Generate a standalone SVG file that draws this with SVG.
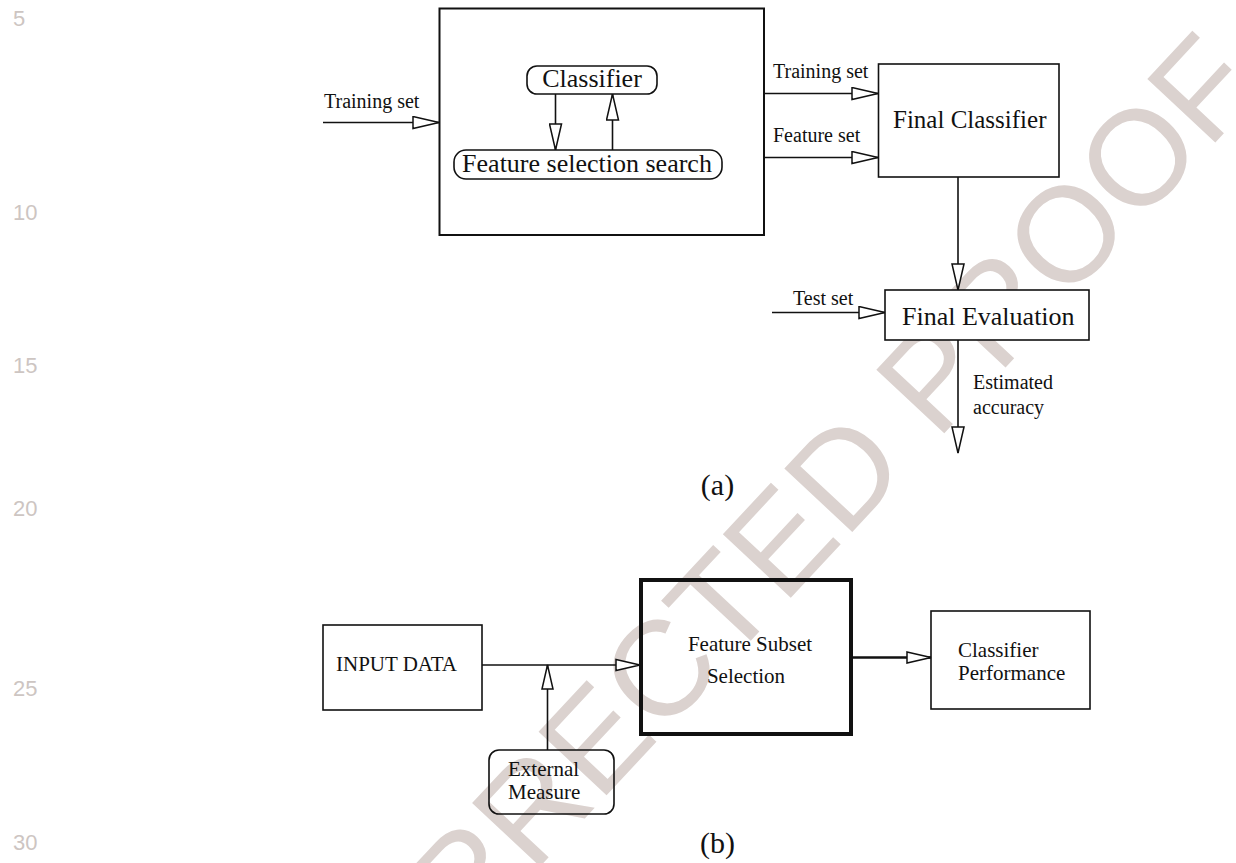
<svg xmlns="http://www.w3.org/2000/svg" width="1236" height="863" viewBox="0 0 1236 863">
<style>
.bg{fill:#ffffff}
.box{fill:none;stroke:#111;stroke-width:1.6}
.thick{fill:none;stroke:#111;stroke-width:4}
.ln{fill:none;stroke:#111;stroke-width:1.6}
.t{font-family:"Liberation Serif","Times New Roman",serif;fill:#111}
.s20{font-size:20px}
.s21{font-size:21px}
.s25{font-size:25px}
.s26{font-size:26px}
.cap{font-family:"Liberation Serif",serif;font-size:30px;fill:#111;text-anchor:middle}
.num{font-family:"Liberation Sans",Arial,sans-serif;font-size:22px;fill:#cdc5c2}
.wm{font-family:"Liberation Sans",Arial,sans-serif;font-size:135px;fill:#dbd2cf}
.mid{text-anchor:middle}
</style>
<defs>
<marker id="ah" viewBox="0 0 28 14" refX="27" refY="7" markerWidth="28" markerHeight="14" markerUnits="userSpaceOnUse" orient="auto">
<path d="M1,1 L27,7 L1,13 Z" fill="#fff" stroke="#111" stroke-width="1.5"/>
</marker>
<marker id="ahs" viewBox="0 0 26 14" refX="25" refY="7" markerWidth="26" markerHeight="14" markerUnits="userSpaceOnUse" orient="auto">
<path d="M1,1.5 L25,7 L1,12.5 Z" fill="#fff" stroke="#111" stroke-width="1.5"/>
</marker>
</defs>
<rect class="bg" x="0" y="0" width="1236" height="863"/>
<g id="watermark">
<text class="wm" transform="translate(328,1094) rotate(-47)">CORRECTED PROOF</text>
</g>
<g id="line-numbers">
<text class="num" x="13" y="26">5</text>
<text class="num" x="13" y="220">10</text>
<text class="num" x="13" y="373">15</text>
<text class="num" x="13" y="516">20</text>
<text class="num" x="13" y="696">25</text>
<text class="num" x="13" y="850">30</text>
</g>
<g id="connectors">
<line class="ln" x1="323" y1="122.5" x2="439" y2="122.5" marker-end="url(#ah)"/>
<line class="ln" x1="555.5" y1="94" x2="555.5" y2="150" marker-end="url(#ah)"/>
<line class="ln" x1="612.5" y1="150" x2="612.5" y2="94" marker-end="url(#ah)"/>
<line class="ln" x1="764" y1="93.5" x2="878" y2="93.5" marker-end="url(#ah)"/>
<line class="ln" x1="764" y1="157.5" x2="878" y2="157.5" marker-end="url(#ah)"/>
<line class="ln" x1="958" y1="177" x2="958" y2="290" marker-end="url(#ah)"/>
<line class="ln" x1="772" y1="312.5" x2="885" y2="312.5" marker-end="url(#ah)"/>
<line class="ln" x1="958" y1="340" x2="958" y2="453" marker-end="url(#ah)"/>
<line class="ln" x1="482" y1="665" x2="640" y2="665" marker-end="url(#ahs)"/>
<line class="ln" x1="547.5" y1="750" x2="547.5" y2="665" marker-end="url(#ahs)"/>
<line class="ln" style="stroke-width:2.6" x1="852" y1="657.5" x2="931" y2="657.5" marker-end="url(#ahs)"/>
</g>
<g id="label-training-in"><text class="t s20" x="324" y="108">Training set</text></g>
<g id="wrapper">
<rect x="439.5" y="8.5" width="324.5" height="226.5" class="box" style="stroke-width:2"/>
</g>
<g id="classifier">
<rect x="527" y="66" width="130" height="28" rx="10" class="box" style="fill:#fff"/>
<text class="t s26 mid" x="592" y="87">Classifier</text>
</g>
<g id="feature-selection-search">
<rect x="454" y="150" width="268" height="29" rx="12" class="box" style="fill:#fff"/>
<text class="t s26 mid" x="587" y="171.5">Feature selection search</text>
</g>
<g id="labels-a">
<text class="t s20" x="773" y="78">Training set</text>
<text class="t s20" x="773" y="142">Feature set</text>
<text class="t s20" x="793" y="305">Test set</text>
<text class="t s20" x="973" y="389">Estimated</text>
<text class="t s20" x="973" y="414">accuracy</text>
</g>
<g id="final-classifier">
<rect x="878.5" y="64" width="180.5" height="113" class="box" style="fill:#fff"/>
<text class="t s25" x="893" y="128">Final Classifier</text>
</g>
<g id="final-evaluation">
<rect x="885" y="290" width="204" height="50" class="box" style="fill:#fff"/>
<text class="t s26" x="902" y="325">Final Evaluation</text>
</g>
<g id="caption-a"><text class="cap" x="717.5" y="495">(a)</text></g>
<g id="input-data">
<rect x="323" y="625" width="159" height="85" class="box"/>
<text class="t s21" x="336" y="671">INPUT DATA</text>
</g>
<g id="external-measure">
<rect x="489" y="750" width="125" height="64" rx="10" class="box"/>
<text class="t s21" x="508" y="776">External</text>
<text class="t s21" x="508" y="799">Measure</text>
</g>
<g id="feature-subset-selection">
<rect x="641" y="580" width="210" height="154" class="thick"/>
<text class="t s21 mid" x="750" y="651">Feature Subset</text>
<text class="t s21 mid" x="746" y="683">Selection</text>
</g>
<g id="classifier-performance">
<rect x="931" y="611" width="159" height="98" class="box"/>
<text class="t s21" x="958" y="657">Classifier</text>
<text class="t s21" x="958" y="680">Performance</text>
</g>
<g id="caption-b"><text class="cap" x="717.5" y="853">(b)</text></g>
</svg>
